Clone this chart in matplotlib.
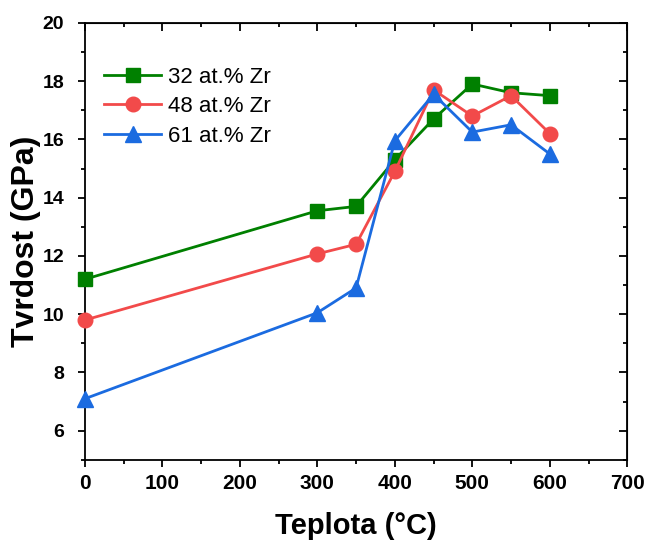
import matplotlib
matplotlib.use("Agg")
import matplotlib.pyplot as plt
from matplotlib.ticker import MultipleLocator

plt.rcParams['font.family'] = ['Liberation Sans', 'DejaVu Sans']

temps = [0, 300, 350, 400, 450, 500, 550, 600]
zr32 = [11.2, 13.55, 13.7, 15.3, 16.7, 17.9, 17.6, 17.5]
zr48 = [9.8, 12.07, 12.4, 14.9, 17.7, 16.8, 17.5, 16.2]
zr61 = [7.1, 10.05, 10.9, 15.95, 17.55, 16.25, 16.5, 15.5]
labels = ['32 at.% Zr', '48 at.% Zr', '61 at.% Zr']
colors = ['#008000', '#f24a4a', '#1b6be0']
markers = ['s', 'o', '^']
msizes = [9.5, 10.5, 11]

fig = plt.figure(figsize=(6.48, 5.43), dpi=100)
ax = fig.add_axes([0.131, 0.153, 0.837, 0.805])

for y, lab, c, m, ms in zip([zr32, zr48, zr61], labels, colors, markers, msizes):
    ax.plot(temps, y, color=c, marker=m, markersize=ms, linewidth=2.0,
            label=lab, clip_on=False, zorder=3)

ax.set_xlim(0, 700)
ax.set_ylim(5, 20)
ax.xaxis.set_major_locator(MultipleLocator(100))
ax.xaxis.set_minor_locator(MultipleLocator(50))
ax.yaxis.set_minor_locator(MultipleLocator(1))
ax.set_yticks([6, 8, 10, 12, 14, 16, 18, 20])

for s in ax.spines.values():
    s.set_linewidth(1.3)

ax.tick_params(which='major', direction='out', length=5, width=1.3,
               top=False, right=False)
ax.tick_params(which='minor', direction='out', length=3, width=1.3,
               top=False, right=False)
ax.tick_params(axis='x', which='major', labelsize=15, pad=5)
ax.tick_params(axis='y', which='major', labelsize=14, pad=10)

for lab in ax.get_xticklabels() + ax.get_yticklabels():
    lab.set_fontweight('bold')

# inward ticks on top and right
axt = ax.secondary_xaxis('top')
axt.xaxis.set_major_locator(MultipleLocator(100))
axt.xaxis.set_minor_locator(MultipleLocator(50))
axt.tick_params(which='major', direction='in', length=5.5, width=1.3, labeltop=False)
axt.tick_params(which='minor', direction='in', length=3, width=1.3)
axr = ax.secondary_yaxis('right')
axr.yaxis.set_minor_locator(MultipleLocator(1))
axr.set_yticks([6, 8, 10, 12, 14, 16, 18, 20])
axr.tick_params(which='major', direction='in', length=5.5, width=1.3, labelright=False)
axr.tick_params(which='minor', direction='in', length=3, width=1.3)

ax.set_xlabel('Teplota (°C)', fontsize=21, fontweight='bold', labelpad=14)
ax.set_ylabel('Tvrdost (GPa)', fontsize=23, fontweight='bold', labelpad=1)

ax.legend(loc='upper left', frameon=False, fontsize=16, bbox_to_anchor=(0.01, 0.93),
          handlelength=2.6, labelspacing=0.38, handletextpad=0.3, borderaxespad=0.2)

fig.savefig('out.png', dpi=100)
